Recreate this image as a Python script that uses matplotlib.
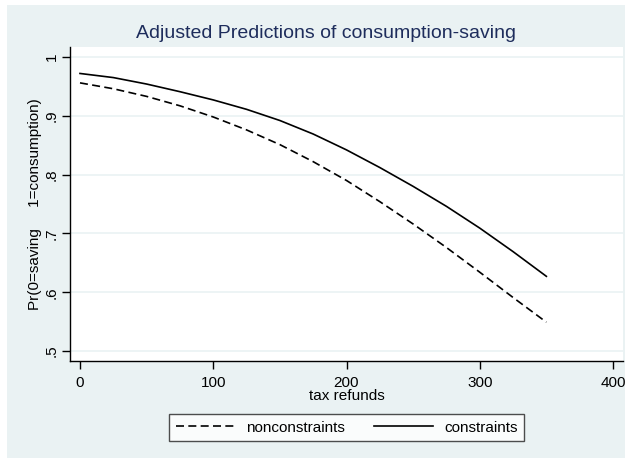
import numpy as np
import matplotlib
matplotlib.use('Agg')
import matplotlib.pyplot as plt
from matplotlib.patches import Rectangle

plt.rcParams['font.family'] = ['Liberation Sans', 'DejaVu Sans']

# values
refunds = [0, 25, 50, 75, 100, 125, 150, 175, 200, 225, 250, 275, 300, 325, 350]
nonconstraints = [0.956, 0.946, 0.933, 0.917, 0.898, 0.876, 0.851, 0.822, 0.790,
                  0.754, 0.716, 0.676, 0.634, 0.591, 0.549]
constraints = [0.972, 0.965, 0.954, 0.941, 0.927, 0.911, 0.892, 0.869, 0.842,
               0.812, 0.780, 0.746, 0.709, 0.669, 0.627]
xticks = [0, 100, 200, 300, 400]
yticks = [0.5, 0.6, 0.7, 0.8, 0.9, 1.0]
ytick_labels = ['.5', '.6', '.7', '.8', '.9', '1']

W, H = 629, 461
bg = '#eaf2f3'
fig = plt.figure(figsize=(W / 100, H / 100), dpi=100, facecolor='white')

# graph region background
fig.patches.append(Rectangle((7 / W, 1 - 458 / H), (625 - 7) / W, (458 - 5) / H,
                             transform=fig.transFigure, facecolor=bg,
                             edgecolor='none', zorder=-10))

ax = fig.add_axes([70 / W, 1 - 361 / H, (623 - 70) / W, (361 - 47) / H])
ax.set_zorder(5)
ax.set_facecolor('white')

ax.plot(refunds, nonconstraints, color='black', lw=1.2, linestyle=(0, (4.8, 2.6)),
        label='nonconstraints')
ax.plot(refunds, constraints, color='black', lw=1.2, label='constraints')

ax.set_xlim(-7.5, 407.5)
ax.set_ylim(0.483, 1.017)
ax.set_xticks(xticks)
ax.set_yticks(yticks)
ax.set_yticklabels(ytick_labels, rotation=90, va='center')
ax.grid(axis='y', color=bg, lw=1.2)
ax.set_axisbelow(True)

for s in ['top', 'right']:
    ax.spines[s].set_visible(False)
for s in ['left', 'bottom']:
    ax.spines[s].set_color('black')
    ax.spines[s].set_linewidth(1.0)

ax.tick_params(axis='both', direction='out', length=6, width=1, color='black',
               labelsize=11, labelcolor='black')
ax.tick_params(axis='y', pad=2)
ax.tick_params(axis='x', pad=5)

ax.set_xlabel('tax refunds', fontsize=11, labelpad=-1)
ax.set_ylabel('Pr(0=saving     1=consumption)', fontsize=11, labelpad=2)

fig.text(325.5 / W, 1 - 33 / H, 'Adjusted Predictions of consumption-saving',
         ha='center', va='center', fontsize=14, color='#1e2d5c')

leg = ax.legend(loc='center', bbox_to_anchor=(346.5 / W, 1 - 427.5 / H),
                bbox_transform=fig.transFigure, ncol=2, fontsize=11,
                handlelength=3.9, handletextpad=0.7, columnspacing=1.9,
                frameon=True, fancybox=False, borderpad=0.45, borderaxespad=0)
leg.get_frame().set_edgecolor('#222222')
leg.get_frame().set_linewidth(1.0)
leg.get_frame().set_facecolor('white')

fig.savefig('out.png', dpi=100, facecolor='white')
